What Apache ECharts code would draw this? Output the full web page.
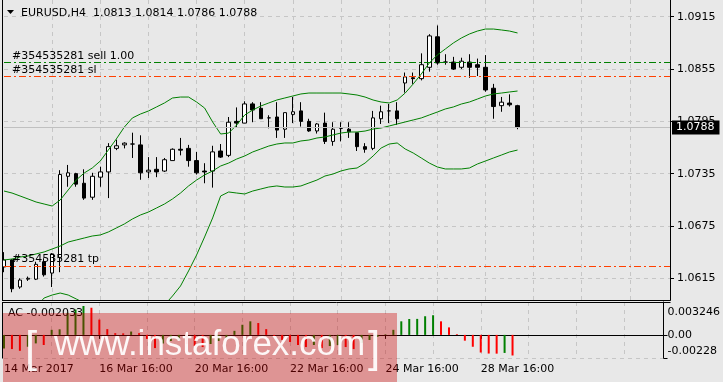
<!DOCTYPE html>
<html><head><meta charset="utf-8">
<script src="https://cdn.jsdelivr.net/npm/echarts@6/dist/echarts.min.js"></script>
<style>html,body{margin:0;padding:0;background:#e8e8e8;}#c{width:723px;height:382px;}</style>
</head><body><div id="c"></div>
<script>
const barOpen  = [1.0628,1.0636,1.0605,1.0614,1.0614,1.0634,1.0621,1.0639,1.0732,1.0735,1.0724,1.0708,1.0731,1.0737,1.0764,1.0768,1.0769,1.0768,1.0737,1.0740,1.0738,1.0750,1.0763,1.0764,1.0750,1.0738,1.0738,1.0761,1.0756,1.0795,1.0793,1.0815,1.0810,1.0799,1.0800,1.0786,1.0803,1.0807,1.0795,1.0784,1.0793,1.0772,1.0787,1.0786,1.0782,1.0766,1.0764,1.0798,1.0807,1.0807,1.0839,1.0845,1.0844,1.0857,1.0892,1.0863,1.0863,1.0857,1.0863,1.0860,1.0857,1.0833,1.0813,1.0816,1.0813];
const barClose = [1.0636,1.0603,1.0613,1.0615,1.0631,1.0619,1.0643,1.0734,1.0736,1.0723,1.0707,1.0732,1.0737,1.0766,1.0767,1.0770,1.0769,1.0736,1.0739,1.0737,1.0751,1.0763,1.0762,1.0750,1.0736,1.0737,1.0760,1.0754,1.0794,1.0793,1.0815,1.0808,1.0798,1.0799,1.0785,1.0805,1.0806,1.0795,1.0784,1.0792,1.0772,1.0786,1.0787,1.0783,1.0766,1.0763,1.0799,1.0806,1.0807,1.0798,1.0846,1.0844,1.0860,1.0893,1.0862,1.0863,1.0855,1.0864,1.0857,1.0857,1.0831,1.0812,1.0817,1.0814,1.0788];
const barLow   = [1.0622,1.0599,1.0603,1.0612,1.0613,1.0617,1.0605,1.0622,1.0720,1.0720,1.0705,1.0705,1.0720,1.0707,1.0762,1.0764,1.0753,1.0728,1.0730,1.0731,1.0737,1.0750,1.0756,1.0743,1.0734,1.0724,1.0719,1.0753,1.0754,1.0788,1.0793,1.0794,1.0798,1.0787,1.0776,1.0776,1.0793,1.0789,1.0783,1.0781,1.0769,1.0767,1.0772,1.0776,1.0761,1.0759,1.0762,1.0792,1.0793,1.0791,1.0828,1.0838,1.0842,1.0852,1.0860,1.0860,1.0854,1.0855,1.0845,1.0847,1.0829,1.0798,1.0806,1.0812,1.0786];
const barHigh  = [1.0645,1.0637,1.0615,1.0617,1.0634,1.0638,1.0644,1.0739,1.0745,1.0736,1.0740,1.0736,1.0743,1.0770,1.0774,1.0771,1.0782,1.0779,1.0754,1.0754,1.0753,1.0764,1.0776,1.0768,1.0760,1.0747,1.0767,1.0769,1.0800,1.0811,1.0818,1.0817,1.0817,1.0802,1.0817,1.0805,1.0823,1.0817,1.0798,1.0793,1.0805,1.0794,1.0794,1.0794,1.0782,1.0770,1.0807,1.0813,1.0815,1.0817,1.0851,1.0851,1.0873,1.0895,1.0905,1.0872,1.0869,1.0868,1.0872,1.0867,1.0871,1.0838,1.0823,1.0826,1.0814];
const bbUpper  = [1.07151,1.07128,1.07094,1.0706,1.07025,1.07002,1.06979,1.07048,1.07163,1.07277,1.07358,1.07415,1.07495,1.07621,1.07748,1.07885,1.07989,1.08034,1.08069,1.08115,1.08161,1.08218,1.08229,1.08229,1.08172,1.08103,1.07943,1.07805,1.07816,1.07908,1.08023,1.0808,1.08126,1.08161,1.08195,1.08218,1.08241,1.08264,1.08275,1.08275,1.08275,1.08275,1.08275,1.08264,1.08252,1.08229,1.08195,1.08172,1.08161,1.08195,1.08275,1.08379,1.08493,1.08619,1.08711,1.0878,1.08849,1.08906,1.08952,1.08986,1.09009,1.09009,1.08998,1.08986,1.08964];
const bbMiddle = [1.0636,1.06371,1.06394,1.06406,1.06429,1.06452,1.06486,1.0652,1.06566,1.06589,1.06612,1.06635,1.06647,1.06681,1.06727,1.06773,1.0683,1.06876,1.0691,1.06956,1.07002,1.0706,1.07128,1.07209,1.07277,1.07335,1.07381,1.07438,1.07472,1.07518,1.07553,1.07599,1.07633,1.07667,1.0769,1.07702,1.07702,1.07725,1.07736,1.07759,1.07771,1.07794,1.07816,1.07828,1.07828,1.07839,1.07862,1.07874,1.07897,1.0792,1.07943,1.07966,1.07989,1.08023,1.08057,1.08092,1.08115,1.08149,1.08172,1.08206,1.08241,1.08264,1.08275,1.08287,1.08298];
const bbLower  = [1.05614,1.05649,1.05695,1.05752,1.05821,1.05924,1.05958,1.05981,1.05958,1.05913,1.05867,1.05832,1.05798,1.05752,1.05706,1.05672,1.05672,1.05695,1.05729,1.05786,1.05844,1.05947,1.06062,1.06234,1.06417,1.06624,1.06842,1.07094,1.0714,1.07128,1.07117,1.07151,1.07174,1.07197,1.07209,1.07197,1.07197,1.07209,1.07243,1.07277,1.07323,1.07346,1.07381,1.07404,1.07415,1.07472,1.07553,1.07644,1.0769,1.07702,1.07633,1.07587,1.0753,1.07472,1.07427,1.07404,1.07404,1.07404,1.07415,1.07461,1.07495,1.0753,1.07564,1.07599,1.07621];
const acValues = [-0.00134,-0.00140,-0.00157,-0.00117,-0.00084,-0.00100,0.00050,0.00055,0.00218,0.00251,0.00285,0.00268,0.00151,0.00057,0.00017,0.00015,0.00033,0.00017,-0.00040,-0.00130,-0.00085,-0.00060,-0.00050,-0.00090,-0.00110,-0.00120,-0.00090,-0.00060,-0.00030,0.00040,0.00100,0.00134,0.00117,0.00057,-0.00010,-0.00050,-0.00070,-0.00100,-0.00120,-0.00100,-0.00130,-0.00110,-0.00100,-0.00120,-0.00140,-0.00080,-0.00050,-0.00020,0.00005,0.00050,0.00134,0.00157,0.00158,0.00184,0.00194,0.00134,0.00074,0.00007,-0.00057,-0.00117,-0.00174,-0.00184,-0.00185,-0.00178,-0.002033];

const priceTicks = [1.0615,1.0675,1.0735,1.0795,1.0855,1.0915];
const priceMin = 1.05901, priceMax = 1.09342;
const acTicks = [0.003246, 0, -0.00228];
const acTickText = ['0.003246','0.00','-0.00228'];
const timeTickIndex = [0,12,24,36,48,60];
const timeTickText = ['14 Mar 2017','16 Mar 16:00','20 Mar 16:00','22 Mar 16:00','24 Mar 16:00','28 Mar 16:00'];
const orderLevels = [1.08625,1.08465,1.0629];
const orderLabels = ['#354535281 sell 1.00','#354535281 sl','#354535281 tp'];
const orderColors = ['#008000','#ff4000','#ff4000'];
const lastPrice = 1.0788;
const headerText = 'EURUSD,H4  1.0813 1.0814 1.0786 1.0788';
const acText = 'AC -0.002033';
const slotCount = 84;

const FONT = 'DejaVu Sans';
const slots = Array.from({length: slotCount}, (_, i) => String(i));
const candles = barOpen.map((o, i) => [o, barClose[i], barLow[i], barHigh[i]]);
const gridLine = {show: true, lineStyle: {color: '#c6c6c6', type: [4, 4], width: 1}};
const vInterval = (i) => i % 6 === 0 && i > 0;
const tInterval = (i) => timeTickIndex.indexOf(i) >= 0;

const chart = echarts.init(document.getElementById('c'), null, {renderer: 'canvas'});

const orderSeries = orderLevels.map((v, k) => ({
  type: 'line', xAxisIndex: 0, yAxisIndex: 0, data: [], symbol: 'none', z: 4, color: orderColors[k],
  markLine: {
    symbol: 'none', silent: true, animation: false, precision: 5,
    lineStyle: {color: orderColors[k], type: [7, 3, 2, 3], width: 1, opacity: 1},
    label: {show: true, position: 'insideStartTop', formatter: orderLabels[k], color: '#000', fontFamily: FONT, fontSize: 11, distance: [8, 1]},
    data: [{yAxis: v}]
  }
}));

chart.setOption({
  animation: false,
  backgroundColor: '#e8e8e8',
  textStyle: {fontFamily: FONT},
  grid: [
    {left: 4, right: 53, top: 0, height: 300},
    {left: 4, right: 53, top: 302, height: 56}
  ],
  xAxis: [
    {type: 'category', gridIndex: 0, data: slots, boundaryGap: false,
     axisLine: {show: true, lineStyle: {color: '#000'}}, axisTick: {show: false}, axisLabel: {show: false},
     splitLine: Object.assign({interval: vInterval}, gridLine)},
    {type: 'category', gridIndex: 1, data: slots, boundaryGap: false,
     axisLine: {show: true, lineStyle: {color: '#000'}},
     axisTick: {show: true, interval: tInterval, length: 4, lineStyle: {color: '#000'}},
     axisLabel: {show: true, interval: tInterval, align: 'left', margin: 6, color: '#000', fontFamily: FONT, fontSize: 11,
       formatter: (v, i) => { const k = timeTickIndex.indexOf(Number(v)); return k >= 0 ? timeTickText[k] : ''; }},
     splitLine: Object.assign({interval: vInterval}, gridLine)}
  ],
  yAxis: [
    {type: 'value', gridIndex: 0, position: 'right', min: priceMin, max: priceMax,
     axisLine: {show: true, lineStyle: {color: '#000'}},
     axisTick: {show: true, length: 4, customValues: priceTicks, lineStyle: {color: '#000'}},
     axisLabel: {customValues: priceTicks, formatter: (v) => v.toFixed(4), margin: 7, color: '#000', fontFamily: FONT, fontSize: 11},
     splitLine: gridLine},
    {type: 'value', gridIndex: 1, position: 'right', min: acTicks[2], max: acTicks[0],
     axisLine: {show: true, lineStyle: {color: '#000'}},
     axisTick: {show: true, length: 4, customValues: acTicks, lineStyle: {color: '#000'}},
     axisLabel: {customValues: acTicks, margin: 4, color: '#000', fontFamily: FONT, fontSize: 11,
       formatter: (v) => { const k = acTicks.findIndex(t => Math.abs(t - v) < 1e-9); return k === 0 ? '{t|' + acTickText[0] + '}' : k === 2 ? '{b|' + acTickText[2] + '}' : acTickText[1]; },
       rich: {t: {padding: [20, 0, 0, 0], fontFamily: FONT, fontSize: 11, color: '#000'}, b: {padding: [0, 0, 14, 0], fontFamily: FONT, fontSize: 11, color: '#000'}}},
     splitLine: {show: true, lineStyle: {color: '#c6c6c6', type: [4, 4]}}}
  ],
  series: [
    {type: 'line', xAxisIndex: 0, yAxisIndex: 0, data: [], symbol: 'none', z: 1, color: '#c0c0c0',
     markLine: {symbol: 'none', silent: true, animation: false, precision: 5,
       lineStyle: {color: '#c0c0c0', type: 'solid', width: 1},
       label: {show: true, position: 'end', formatter: lastPrice.toFixed(4), color: '#fff', backgroundColor: '#000', padding: [2, 5, 1, 4], fontFamily: FONT, fontSize: 11, distance: 2},
       data: [{yAxis: lastPrice}]}},
    {type: 'candlestick', xAxisIndex: 0, yAxisIndex: 0, data: candles, barWidth: 4, clip: false, z: 2,
     itemStyle: {color: '#fff', color0: '#000', borderColor: '#000', borderColor0: '#000', borderColorDoji: '#000', borderWidth: 1}},
    {type: 'line', xAxisIndex: 0, yAxisIndex: 0, data: bbUpper, symbol: 'none', lineStyle: {color: '#008000', width: 1}, z: 3},
    {type: 'line', xAxisIndex: 0, yAxisIndex: 0, data: bbMiddle, symbol: 'none', lineStyle: {color: '#008000', width: 1}, z: 3},
    {type: 'line', xAxisIndex: 0, yAxisIndex: 0, data: bbLower, symbol: 'none', clip: true, lineStyle: {color: '#008000', width: 1}, z: 3},
    ...orderSeries,
    {type: 'bar', xAxisIndex: 1, yAxisIndex: 1, data: acValues, barWidth: 2,
     itemStyle: {color: (p) => (p.dataIndex === 0 || acValues[p.dataIndex] > acValues[p.dataIndex - 1]) ? '#008000' : '#ff0000'}}
  ],
  graphic: [
    {type: 'line', shape: {x1: 2.5, y1: 0, x2: 2.5, y2: 300.5}, style: {stroke: '#000', lineWidth: 1}, z: 50},
    {type: 'line', shape: {x1: 2.5, y1: 302.5, x2: 2.5, y2: 358.5}, style: {stroke: '#000', lineWidth: 1}, z: 50},
    {type: 'line', shape: {x1: 2, y1: 302.5, x2: 670.5, y2: 302.5}, style: {stroke: '#000', lineWidth: 1}, z: 50},
    {type: 'line', shape: {x1: 2, y1: 300.5, x2: 670.5, y2: 300.5}, style: {stroke: '#000', lineWidth: 1}, z: 50},
    {type: 'polygon', shape: {points: [[7, 10], [14, 10], [10.5, 14]]}, style: {fill: '#000'}, z: 50},
    {type: 'text', x: 21, y: 13, style: {text: headerText, fill: '#000', font: '11px "DejaVu Sans"', textVerticalAlign: 'middle'}, z: 50},
    {type: 'text', x: 8, y: 313, style: {text: acText, fill: '#000', font: '11px "DejaVu Sans"', textVerticalAlign: 'middle'}, z: 50},
    {type: 'rect', shape: {x: 3, y: 313, width: 394, height: 69}, style: {fill: 'rgba(205,0,0,0.36)'}, z: 100},
    {type: 'text', x: 25, y: 350, style: {text: '[', fill: 'rgba(255,255,255,0.92)', font: '300 44px "Liberation Sans"', textVerticalAlign: 'middle'}, z: 101},
    {type: 'text', x: 54, y: 345, style: {text: 'www.instaforex.com', fill: 'rgba(255,255,255,0.92)', font: '35px "Liberation Sans"', textVerticalAlign: 'middle'}, z: 101},
    {type: 'text', x: 368, y: 350, style: {text: ']', fill: 'rgba(255,255,255,0.92)', font: '300 44px "Liberation Sans"', textVerticalAlign: 'middle'}, z: 101}
  ]
});
</script></body></html>
